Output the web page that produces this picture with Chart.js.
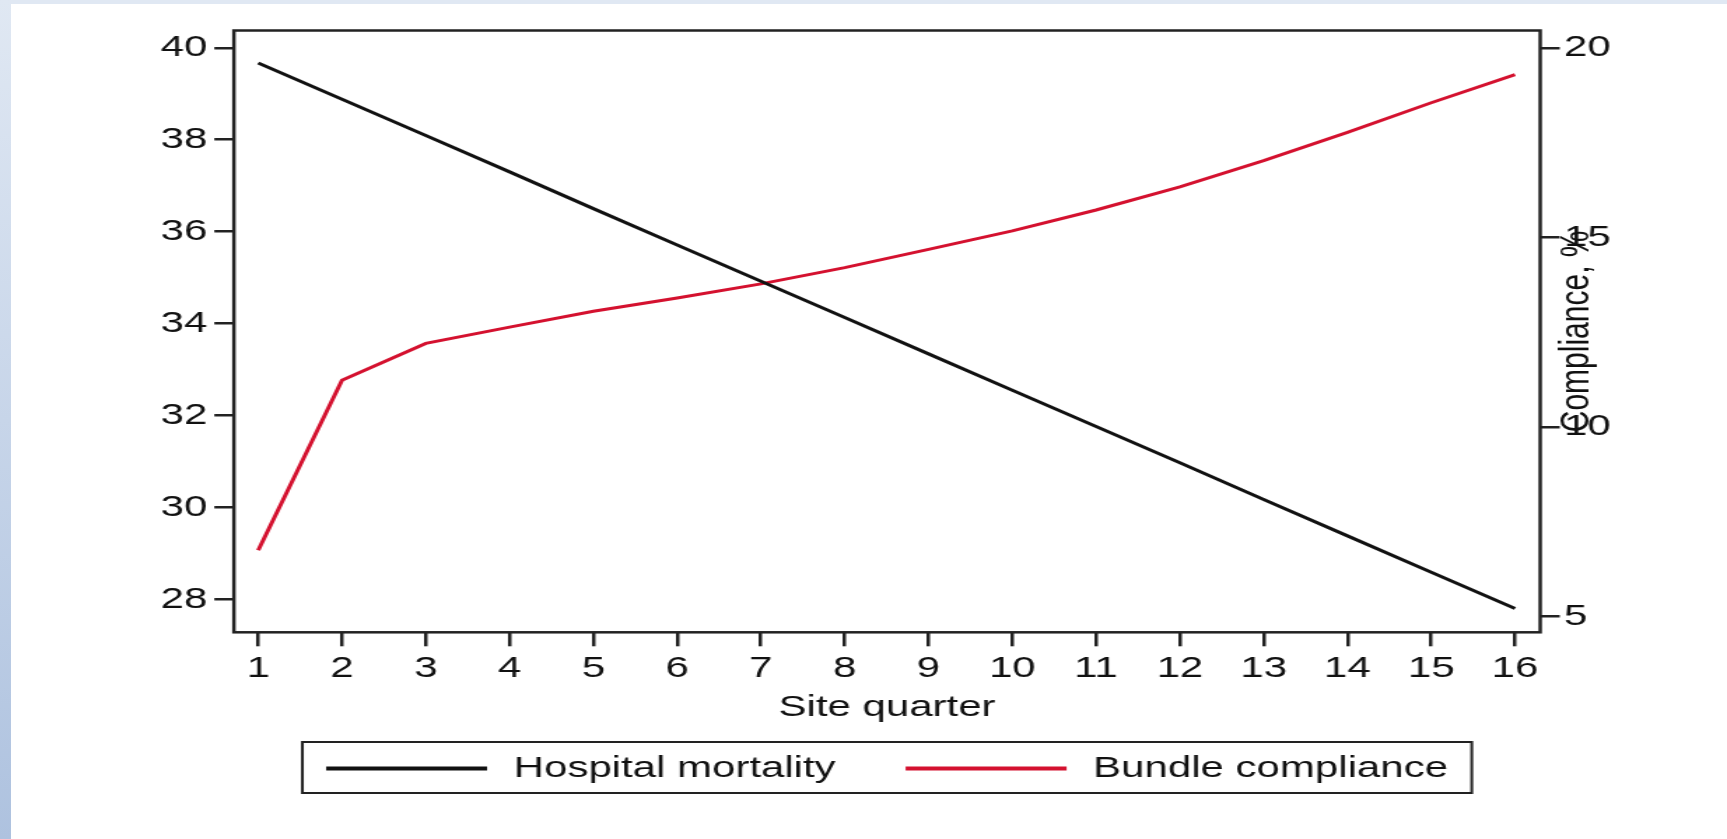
<!DOCTYPE html>
<html>
<head>
<meta charset="utf-8">
<script src="https://cdn.jsdelivr.net/npm/chart.js@4.4.1/dist/chart.umd.min.js"></script>
<style>
html, body { margin: 0; padding: 0; background: #ffffff; overflow: hidden; }
#wrap { position: relative; width: 1727px; height: 839px; background: #ffffff; }
#topstrip { position: absolute; left: 0; top: 0; width: 1727px; height: 4px; background: #e0e8f3; }
#leftstrip { position: absolute; left: 0; top: 0; width: 11px; height: 839px; background: linear-gradient(to bottom, #e0e8f3, #aec2df); }
#c { position: absolute; left: 0; top: 0; }
</style>
</head>
<body>
<div id="wrap">
  <div id="topstrip"></div>
  <div id="leftstrip"></div>
  <canvas id="c" width="1234" height="839" style="width:1727px;height:839px"></canvas>
</div>
<script>
// ---- data ----
const quarters = [1, 2, 3, 4, 5, 6, 7, 8, 9, 10, 11, 12, 13, 14, 15, 16];
const mortality = [39.67, 38.88, 38.09, 37.30, 36.50, 35.71, 34.92, 34.13, 33.34, 32.55, 31.76, 30.97, 30.17, 29.38, 28.59, 27.80];
const compliance = [6.74, 11.23, 12.20, 12.63, 13.05, 13.40, 13.77, 14.20, 14.68, 15.17, 15.72, 16.33, 17.02, 17.77, 18.55, 19.29];
const leftTicks = [28, 30, 32, 34, 36, 38, 40];
const rightTicks = [5, 10, 15, 20];
const seriesLabels = ['Hospital mortality', 'Bundle compliance'];
const seriesColors = ['#111111', '#d4112f'];
const xTitle = 'Site quarter';
const rightTitle = 'Compliance, %';

const FONT = '"Liberation Sans", Arial, Helvetica, sans-serif';
const INK = '#111111';
const FRAME = '#222222';

Chart.defaults.font.family = FONT;
Chart.defaults.font.size = 30;
Chart.defaults.color = INK;

const framePlugin = {
  id: 'frameBox',
  afterDraw(chart) {
    const ca = chart.chartArea;
    const ctx = chart.ctx;
    ctx.save();
    ctx.strokeStyle = FRAME;
    ctx.lineWidth = 2.5;
    ctx.strokeRect(ca.left, ca.top, ca.right - ca.left, ca.bottom - ca.top);
    ctx.restore();
  }
};

const rightTitlePlugin = {
  id: 'rightTitle',
  afterDraw(chart) {
    const ca = chart.chartArea;
    const ctx = chart.ctx;
    ctx.save();
    ctx.fillStyle = INK;
    ctx.font = '30px ' + FONT;
    ctx.translate(ca.right + 34.3, (ca.top + ca.bottom) / 2);
    ctx.rotate(-Math.PI / 2);
    ctx.textAlign = 'center';
    ctx.textBaseline = 'alphabetic';
    ctx.fillText(rightTitle, 0, 0);
    ctx.restore();
  }
};

const boxLegendPlugin = {
  id: 'boxLegend',
  afterDraw(chart) {
    const ca = chart.chartArea;
    const ctx = chart.ctx;
    const ds = chart.data.datasets;
    ctx.save();
    ctx.font = '30px ' + FONT;
    const widths = ds.map(d => ctx.measureText(d.label).width);
    const lineW = 115, gapT = 19, gapI = 50, pad = 17;
    let content = 0;
    ds.forEach((d, i) => { content += lineW + gapT + widths[i]; if (i < ds.length - 1) content += gapI; });
    const cx = (ca.left + ca.right) / 2;
    const top = chart.scales.x.bottom - 1;
    const h = 51;
    const mid = top + h / 2;
    ctx.strokeStyle = FRAME;
    ctx.lineWidth = 2;
    ctx.strokeRect(cx - content / 2 - pad, top, content + 2 * pad, h);
    let x = cx - content / 2;
    ds.forEach((d, i) => {
      ctx.strokeStyle = d.borderColor;
      ctx.lineWidth = 4;
      ctx.beginPath();
      ctx.moveTo(x, mid + 1);
      ctx.lineTo(x + lineW, mid + 1);
      ctx.stroke();
      x += lineW + gapT;
      ctx.fillStyle = INK;
      ctx.textAlign = 'left';
      ctx.textBaseline = 'middle';
      ctx.fillText(d.label, x, mid + 1);
      x += widths[i] + gapI;
    });
    ctx.restore();
  }
};

const tickGrid = {
  drawOnChartArea: false,
  drawTicks: true,
  tickLength: 14,
  tickWidth: 2.5,
  tickColor: FRAME,
  color: FRAME,
  lineWidth: 2.5
};

new Chart(document.getElementById('c'), {
  type: 'line',
  data: {
    datasets: [
      {
        label: seriesLabels[0],
        data: quarters.map((q, i) => ({ x: q, y: mortality[i] })),
        borderColor: seriesColors[0],
        backgroundColor: seriesColors[0],
        borderWidth: 3,
        pointRadius: 0,
        tension: 0,
        fill: false,
        yAxisID: 'y'
      },
      {
        label: seriesLabels[1],
        data: quarters.map((q, i) => ({ x: q, y: compliance[i] })),
        borderColor: seriesColors[1],
        backgroundColor: seriesColors[1],
        borderWidth: 3,
        pointRadius: 0,
        tension: 0,
        fill: false,
        yAxisID: 'y1'
      }
    ]
  },
  options: {
    responsive: false,
    animation: false,
    devicePixelRatio: 1,
    events: [],
    layout: { padding: { left: 0, right: 0, top: 30.5, bottom: 96 } },
    plugins: {
      legend: { display: false },
      tooltip: { enabled: false },
      title: { display: false }
    },
    scales: {
      x: {
        type: 'linear',
        position: 'bottom',
        min: 0.71,
        max: 16.3,
        border: { display: false },
        grid: tickGrid,
        afterBuildTicks: s => { s.ticks = quarters.map(v => ({ value: v })); },
        afterFit: s => { s.height = 110.7; },
        ticks: { autoSkip: false, maxRotation: 0, padding: 4, color: INK, font: { size: 30 } },
        title: { display: true, text: xTitle, color: INK, font: { size: 30 }, padding: { top: 4, bottom: 17 } }
      },
      y: {
        type: 'linear',
        position: 'left',
        min: 27.282,
        max: 40.376,
        border: { display: false },
        grid: tickGrid,
        afterBuildTicks: s => { s.ticks = leftTicks.map(v => ({ value: v })); },
        afterFit: s => { s.width = 167.14; },
        ticks: { padding: 5, color: INK, font: { size: 30 } }
      },
      y1: {
        type: 'linear',
        position: 'right',
        min: 4.578,
        max: 20.456,
        border: { display: false },
        grid: tickGrid,
        afterBuildTicks: s => { s.ticks = rightTicks.map(v => ({ value: v })); },
        afterFit: s => { s.width = 133.5; },
        ticks: { padding: 3, color: INK, font: { size: 30 } }
      }
    }
  },
  plugins: [framePlugin, rightTitlePlugin, boxLegendPlugin]
});
</script>
</body>
</html>
